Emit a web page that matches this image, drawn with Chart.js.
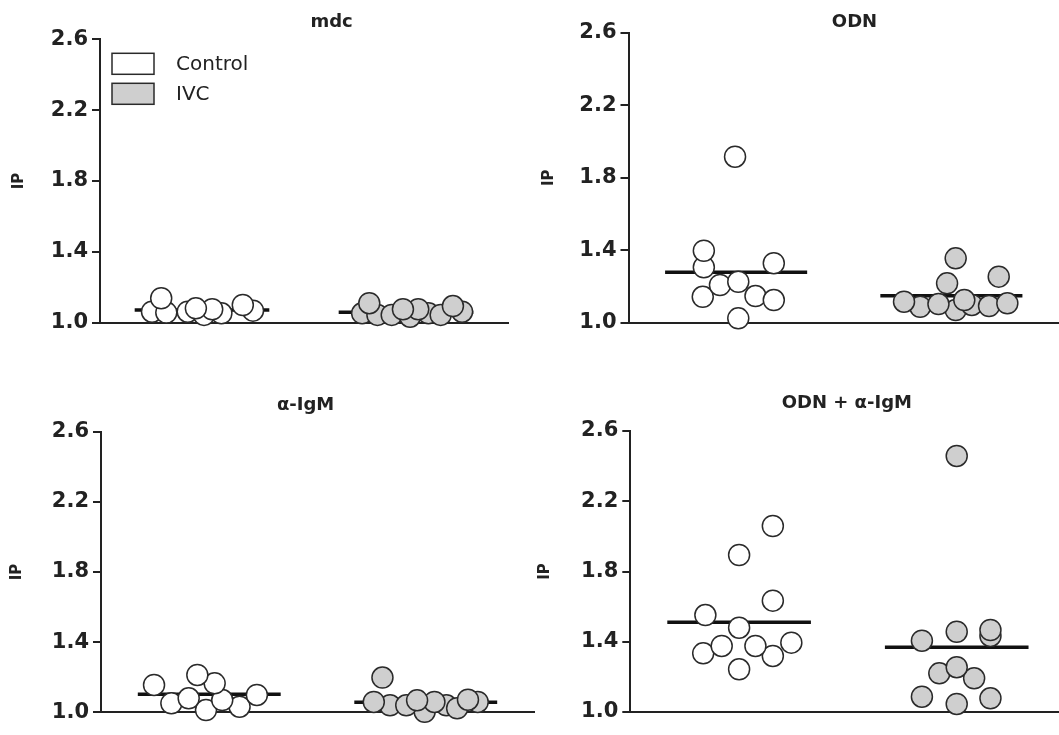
<!DOCTYPE html>
<html>
<head>
<meta charset="utf-8">
<script src="https://cdn.jsdelivr.net/npm/chart.js@4.4.1/dist/chart.umd.min.js"></script>
<style>
  html, body { margin: 0; padding: 0; background: #fff; }
  body { width: 1059px; height: 735px; position: relative; overflow: hidden; }
  canvas { position: absolute; }
</style>
</head>
<body>
<canvas id="c0" width="520" height="340" style="left:0;top:0"></canvas>
<canvas id="c1" width="529" height="340" style="left:530px;top:0"></canvas>
<canvas id="c2" width="535" height="365" style="left:0;top:370px"></canvas>
<canvas id="c3" width="524" height="365" style="left:535px;top:370px"></canvas>
<script>
// Data
const groups = ['Control', 'IVC'];
const groupX = [1, 3];
const yTicks = [1.0, 1.4, 1.8, 2.2, 2.6];
const panelTitles = ['mdc', 'ODN', '\u03b1-IgM', 'ODN + \u03b1-IgM'];

const mdcControl = [1.062, 1.057, 1.138, 1.062, 1.044, 1.053, 1.076, 1.081, 1.068, 1.100];
const mdcControlJitter = [-0.49, -0.35, -0.40, -0.14, 0.02, 0.19, 0.10, -0.06, 0.50, 0.40];
const mdcIvc = [1.053, 1.044, 1.110, 1.044, 1.034, 1.053, 1.044, 1.076, 1.076, 1.062, 1.094];
const mdcIvcJitter = [-0.43, -0.28, -0.36, -0.14, 0.04, 0.22, 0.34, 0.12, -0.03, 0.55, 0.46];
const mdcMedians = [1.072, 1.059];

const odnControl = [1.916, 1.306, 1.397, 1.143, 1.208, 1.226, 1.147, 1.125, 1.328, 1.024];
const odnControlJitter = [-0.01, -0.30, -0.30, -0.31, -0.15, 0.02, 0.18, 0.35, 0.35, 0.02];
const odnIvc = [1.088, 1.116, 1.070, 1.098, 1.092, 1.103, 1.217, 1.125, 1.107, 1.355, 1.254];
const odnIvcJitter = [-0.29, -0.44, 0.04, 0.19, 0.35, -0.12, -0.04, 0.12, 0.52, 0.04, 0.44];
const odnMedians = [1.278, 1.149];

const igmControl = [1.013, 1.051, 1.032, 1.070, 1.165, 1.213, 1.080, 1.156, 1.099];
const igmControlJitter = [-0.03, -0.35, 0.28, 0.12, 0.05, -0.11, -0.19, -0.51, 0.44];
const igmIvc = [1.003, 1.040, 1.040, 1.040, 1.023, 1.059, 1.059, 1.068, 1.059, 1.198, 1.072];
const igmIvcJitter = [-0.01, -0.33, -0.18, 0.19, 0.29, 0.48, 0.08, -0.08, -0.48, -0.40, 0.39];
const igmMedians = [1.103, 1.057];

const odnIgmControl = [1.334, 1.319, 1.243, 1.376, 1.376, 1.395, 1.552, 1.480, 1.634, 1.894, 2.059];
const odnIgmControlJitter = [-0.33, 0.31, 0.00, -0.16, 0.15, 0.48, -0.31, 0.00, 0.31, 0.00, 0.31];
const odnIgmIvc = [2.458, 1.087, 1.046, 1.078, 1.220, 1.192, 1.255, 1.406, 1.457, 1.433, 1.467];
const odnIgmIvcJitter = [0.00, -0.32, 0.00, 0.31, -0.16, 0.16, 0.00, -0.32, 0.00, 0.31, 0.31];
const odnIgmMedians = [1.511, 1.368];

const panelData = [
    [[mdcControl, mdcControlJitter], [mdcIvc, mdcIvcJitter], mdcMedians],
    [[odnControl, odnControlJitter], [odnIvc, odnIvcJitter], odnMedians],
    [[igmControl, igmControlJitter], [igmIvc, igmIvcJitter], igmMedians],
    [[odnIgmControl, odnIgmControlJitter], [odnIgmIvc, odnIgmIvcJitter], odnIgmMedians]
];

// Layout of the four panels
const panels = [
    { id: 'c0', yw: 100, pad: { top: 39.3, right: 12, bottom: 17.3, left: 0 }, xMax: 4, titleX: 2.27, titleY: 22, ipPad: 10, legend: true },
    { id: 'c1', yw: 98.5, pad: { top: 32.7, right: 0, bottom: 17.3, left: 0 }, xMax: 4, titleX: 2.10, titleY: 22, ipPad: 10, legend: false },
    { id: 'c2', yw: 101, pad: { top: 61.7, right: 1, bottom: 22.7, left: 0 }, xMax: 4, titleX: 1.89, titleY: 35, ipPad: 8.5, legend: false },
    { id: 'c3', yw: 95.3, pad: { top: 61, right: 0, bottom: 23, left: 0 }, xMax: 3.94, titleX: 1.99, titleY: 33, ipPad: 1, legend: false }
];

const INK = '#222';
const fills = ['#ffffff', '#cfcfcf'];

// Panel title drawn above the plot
const panelTitle = {
    id: 'panelTitle',
    afterDraw(chart, args, opts) {
        const ctx = chart.ctx;
        ctx.save();
        ctx.font = 'bold 18px "DejaVu Sans"';
        ctx.fillStyle = INK;
        ctx.textAlign = 'center';
        ctx.textBaseline = 'middle';
        ctx.fillText(opts.text, chart.scales.x.getPixelForValue(opts.x), opts.y);
        ctx.restore();
    }
};

// Legend boxes inside the plot area
const insideLegend = {
    id: 'insideLegend',
    afterDraw(chart, args, opts) {
        if (!opts.show) return;
        const { ctx, chartArea } = chart;
        ctx.save();
        ctx.font = '20px "DejaVu Sans"';
        ctx.textBaseline = 'middle';
        groups.forEach((name, i) => {
            const ds = chart.data.datasets[i];
            const x = chartArea.left + 12;
            const y = chartArea.top + 14 + i * 30;
            ctx.fillStyle = ds.backgroundColor;
            ctx.fillRect(x, y, 42, 21);
            ctx.lineWidth = 1.5;
            ctx.strokeStyle = ds.borderColor;
            ctx.strokeRect(x, y, 42, 21);
            ctx.fillStyle = INK;
            ctx.fillText(name, x + 64, y + 11);
        });
        ctx.restore();
    }
};

panels.forEach((p, k) => {
    const [ctrl, ivc, medians] = panelData[k];
    const pointSets = [ctrl, ivc].map(([values, jitter], g) => ({
        type: 'scatter',
        label: groups[g],
        data: values.map((v, i) => ({ x: groupX[g] + jitter[i], y: v })),
        backgroundColor: fills[g],
        borderColor: '#2a2a2a',
        borderWidth: 1.5,
        pointRadius: 10.5,
        clip: false
    }));
    const medianSets = medians.map((m, g) => ({
        type: 'line',
        label: groups[g] + ' median',
        data: [{ x: groupX[g] - 0.66, y: m }, { x: groupX[g] + 0.66, y: m }],
        borderColor: '#111',
        borderWidth: 3.5,
        pointRadius: 0,
        clip: false
    }));

    new Chart(document.getElementById(p.id), {
        type: 'scatter',
        data: { datasets: [...pointSets, ...medianSets] },
        options: {
            responsive: false,
            animation: false,
            events: [],
            layout: { padding: p.pad, autoPadding: false },
            scales: {
                x: {
                    type: 'linear',
                    min: 0,
                    max: p.xMax,
                    afterFit: s => { s.height = 0; },
                    ticks: { display: false },
                    grid: { display: false },
                    border: { display: true, color: INK, width: 2 }
                },
                y: {
                    min: 1.0,
                    max: 2.6,
                    afterBuildTicks: s => { s.ticks = yTicks.map(v => ({ value: v })); },
                    afterFit: s => { s.width = p.yw; },
                    grid: { display: true, drawOnChartArea: false, drawTicks: true, tickLength: 8, color: INK, lineWidth: 2 },
                    border: { display: true, color: INK, width: 2 },
                    ticks: {
                        color: INK,
                        padding: 4,
                        font: { family: 'DejaVu Sans', weight: 'bold', size: 21 },
                        callback: v => v.toFixed(1)
                    },
                    title: {
                        display: true,
                        text: 'IP',
                        color: INK,
                        font: { family: 'DejaVu Sans', weight: 'bold', size: 15 },
                        padding: { top: p.ipPad, bottom: 0 }
                    }
                }
            },
            plugins: {
                legend: { display: false },
                tooltip: { enabled: false },
                panelTitle: { text: panelTitles[k], x: p.titleX, y: p.titleY },
                insideLegend: { show: p.legend }
            }
        },
        plugins: [panelTitle, insideLegend]
    });
});
</script>
</body>
</html>
